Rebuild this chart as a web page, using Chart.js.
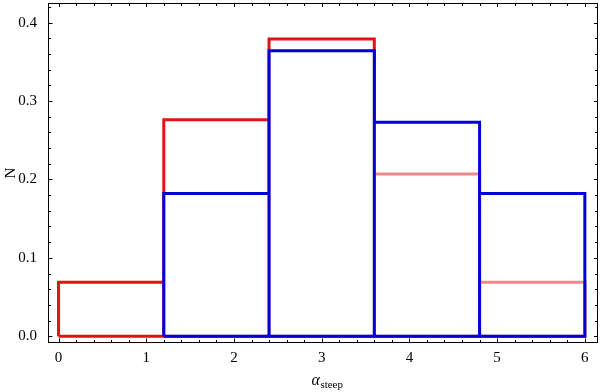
<!DOCTYPE html>
<html lang="en">
<head>
    <meta charset="UTF-8">
    <title>alpha steep histogram</title>
    <script src="https://cdn.jsdelivr.net/npm/chart.js"></script>
    <style>
        html, body { margin: 0; padding: 0; background: #fff; }
        .chart-box { width: 600px; height: 392px; position: relative; }
    </style>
</head>
<body>
    <div class="chart-box">
        <canvas id="histCanvas"></canvas>
    </div>
    <script>
        // bin edges and normalised counts
        let binEdges = [0, 1.2, 2.4, 3.6, 4.8, 6];
        let redHeights = [0.069, 0.276, 0.379, 0.207, 0.069];
        let blueHeights = [0, 0.182, 0.364, 0.273, 0.182];
        let xTicks = [0, 1, 2, 3, 4, 5, 6];
        let yTicks = [0, 0.1, 0.2, 0.3, 0.4];

        // outline path of a histogram: every non-empty rectangle, walked left to right
        // withBottom traces each bottom edge back and forth
        function outline(heights, withBottom) {
            let pts = [];
            heights.forEach((h, i) => {
                if (h <= 0) return;
                let l = binEdges[i], r = binEdges[i + 1];
                pts.push({x: l, y: 0}, {x: l, y: h}, {x: r, y: h}, {x: r, y: 0});
                if (withBottom) pts.push({x: l, y: 0}, {x: r, y: 0});
            });
            return pts;
        }

        // inward ticks on all four sides, plus frame and axis titles
        const framePlugin = {
            id: 'frame',
            afterDraw(chart) {
                let ctx = chart.ctx;
                let a = chart.chartArea;
                let xs = chart.scales.x, ys = chart.scales.y;
                let L = Math.round(a.left) + 0.5, R = Math.round(a.right) - 0.5;
                let T = Math.round(a.top) + 0.5, B = Math.round(a.bottom) - 0.5;
                ctx.save();
                ctx.strokeStyle = '#000';
                ctx.lineWidth = 1;
                ctx.strokeRect(L, T, R - L, B - T);
                ctx.beginPath();
                for (let i = 0; i <= 30; i++) {
                    let v = i * 0.2;
                    let px = Math.round(xs.getPixelForValue(v)) + 0.5;
                    let major = i % 5 === 0;
                    ctx.moveTo(px, B); ctx.lineTo(px, B - (major ? 4 : 2.5));
                    ctx.moveTo(px, T); ctx.lineTo(px, T + (major ? 3.5 : 2.5));
                }
                for (let i = 0; i <= 21; i++) {
                    let v = i * 0.02;
                    let py = Math.round(ys.getPixelForValue(v)) + 0.5;
                    let major = i % 5 === 0;
                    ctx.moveTo(L, py); ctx.lineTo(L + (major ? 4 : 2.5), py);
                    ctx.moveTo(R, py); ctx.lineTo(R - (major ? 3.5 : 2.5), py);
                }
                ctx.stroke();

                ctx.fillStyle = '#000';
                // y title
                ctx.font = '15px "Liberation Serif"';
                ctx.textAlign = 'center';
                ctx.textBaseline = 'middle';
                ctx.save();
                ctx.translate(11, (a.top + a.bottom) / 2);
                ctx.rotate(-Math.PI / 2);
                ctx.fillText('N', 0, 0);
                ctx.restore();
                // x title with subscript
                let cx = (a.left + a.right) / 2;
                ctx.textAlign = 'left';
                ctx.textBaseline = 'alphabetic';
                ctx.font = 'italic 16px "Liberation Serif"';
                let w1 = ctx.measureText('α').width;
                ctx.font = '11px "Liberation Serif"';
                let w2 = ctx.measureText('steep').width;
                let x0 = cx - (w1 + w2) / 2 + 4;
                ctx.font = 'italic 16px "Liberation Serif"';
                ctx.fillText('α', x0, 385);
                ctx.font = '11px "Liberation Serif"';
                ctx.fillText('steep', x0 + w1 + 0.5, 388);
                ctx.restore();
            }
        };

        let histCanvas = document.getElementById('histCanvas');
        let histChart = new Chart(histCanvas, {
            type: 'line',
            data: {
                datasets: [
                    {
                        label: 'blue',
                        data: outline(blueHeights, true),
                        borderColor: '#0000d8',
                        borderWidth: 3,
                        fill: false,
                        pointRadius: 0,
                        tension: 0,
                        borderJoinStyle: 'miter',
                        order: 0
                    },
                    {
                        // semi-transparent white body of the blue bars
                        label: 'blue fill',
                        data: outline(blueHeights, false),
                        borderWidth: 0,
                        borderColor: 'rgba(0,0,0,0)',
                        backgroundColor: 'rgba(255,255,255,0.5)',
                        fill: 'origin',
                        pointRadius: 0,
                        tension: 0,
                        order: 1
                    },
                    {
                        label: 'red',
                        data: outline(redHeights, true),
                        borderColor: '#e01414',
                        borderWidth: 3,
                        fill: false,
                        pointRadius: 0,
                        tension: 0,
                        borderJoinStyle: 'miter',
                        order: 2
                    }
                ]
            },
            options: {
                responsive: true,
                maintainAspectRatio: false,
                animation: false,
                layout: { padding: { top: 3, right: 2, left: 0, bottom: 0 } },
                plugins: {
                    legend: { display: false },
                    tooltip: { enabled: false }
                },
                scales: {
                    x: {
                        type: 'linear',
                        min: -0.12,
                        max: 6.15,
                        afterBuildTicks: s => { s.ticks = xTicks.map(v => ({value: v})); },
                        afterFit: s => { s.height = 49; s.paddingLeft = 0; s.paddingRight = 0; },
                        grid: { display: false, drawTicks: false },
                        border: { display: false },
                        ticks: {
                            padding: 6,
                            color: '#000',
                            font: { family: 'Liberation Serif', size: 15 },
                            maxRotation: 0,
                            callback: v => String(v)
                        }
                    },
                    y: {
                        type: 'linear',
                        min: -0.0086,
                        max: 0.425,
                        afterBuildTicks: s => { s.ticks = yTicks.map(v => ({value: v})); },
                        afterFit: s => { s.width = 48; s.paddingTop = 0; s.paddingBottom = 0; },
                        grid: { display: false, drawTicks: false },
                        border: { display: false },
                        ticks: {
                            padding: 11,
                            color: '#000',
                            font: { family: 'Liberation Serif', size: 15 },
                            callback: v => v.toFixed(1)
                        }
                    }
                }
            },
            plugins: [framePlugin]
        });
    </script>
</body>
</html>
